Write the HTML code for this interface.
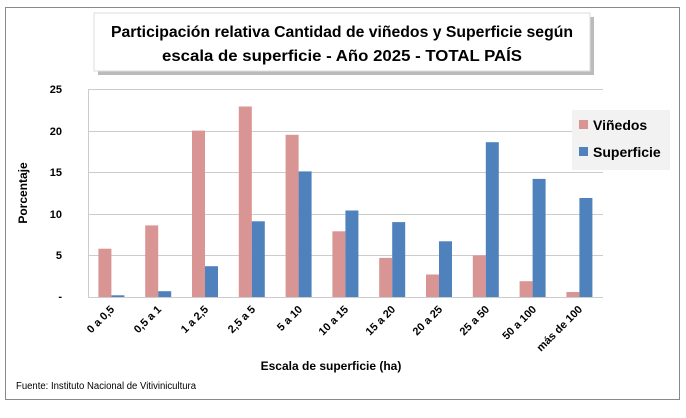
<!DOCTYPE html><html><head><style>body{margin:0;background:#fff}svg text{font-family:"Liberation Sans",sans-serif}</style></head><body>
<svg width="686" height="413" xmlns="http://www.w3.org/2000/svg">
<rect x="5.5" y="7.5" width="674" height="392" fill="#fff" stroke="#888"/>
<rect x="98" y="17" width="496" height="58" fill="#bbb"/>
<rect x="94" y="13" width="496" height="58" fill="#fff" stroke="#ddd"/>
<text x="342" y="37" text-anchor="middle" font-size="16" font-weight="bold" textLength="462" lengthAdjust="spacingAndGlyphs">Participación relativa Cantidad de viñedos y Superficie según</text>
<text x="342" y="61" text-anchor="middle" font-size="16" font-weight="bold" textLength="360" lengthAdjust="spacingAndGlyphs">escala de superficie - Año 2025 - TOTAL PAÍS</text>
<g stroke="#ccc"><line x1="88" x2="603" y1="89.5" y2="89.5"/><line x1="88" x2="603" y1="131.5" y2="131.5"/><line x1="88" x2="603" y1="172.5" y2="172.5"/><line x1="88" x2="603" y1="214.5" y2="214.5"/><line x1="88" x2="603" y1="255.5" y2="255.5"/><line x1="88" x2="603" y1="297.5" y2="297.5"/><line x1="88.5" x2="88.5" y1="89" y2="297"/></g>
<g font-size="11" font-weight="bold" text-anchor="end"><text x="62" y="93">25</text><text x="62" y="135">20</text><text x="62" y="176">15</text><text x="62" y="218">10</text><text x="62" y="259">5</text><text x="62" y="300">-</text></g>
<text transform="translate(27,193) rotate(-90)" text-anchor="middle" font-size="12" font-weight="bold">Porcentaje</text>
<g fill="#d99594">
<rect x="98.4" y="248.7" width="13" height="48.3"/>
<rect x="145.2" y="225.4" width="13" height="71.6"/>
<rect x="192" y="130.6" width="13" height="166.4"/>
<rect x="238.8" y="106.5" width="13" height="190.5"/>
<rect x="285.6" y="134.8" width="13" height="162.2"/>
<rect x="332.4" y="231.3" width="13" height="65.7"/>
<rect x="379.2" y="257.9" width="13" height="39.1"/>
<rect x="426" y="274.5" width="13" height="22.5"/>
<rect x="472.8" y="255.4" width="13" height="41.6"/>
<rect x="519.6" y="281.2" width="13" height="15.8"/>
<rect x="566.4" y="292" width="13" height="5"/>
</g>
<g fill="#4f81bd">
<rect x="111.4" y="295.3" width="13" height="1.7"/>
<rect x="158.2" y="291.2" width="13" height="5.8"/>
<rect x="205" y="266.2" width="13" height="30.8"/>
<rect x="251.8" y="221.3" width="13" height="75.7"/>
<rect x="298.6" y="171.4" width="13" height="125.6"/>
<rect x="345.4" y="210.5" width="13" height="86.5"/>
<rect x="392.2" y="222.1" width="13" height="74.9"/>
<rect x="439" y="241.3" width="13" height="55.7"/>
<rect x="485.8" y="142.2" width="13" height="154.8"/>
<rect x="532.6" y="178.9" width="13" height="118.1"/>
<rect x="579.4" y="198" width="13" height="99"/>
</g>
<g font-size="11" font-weight="bold" text-anchor="end">
<text transform="translate(115,310) rotate(-45)">0 a 0,5</text>
<text transform="translate(162,310) rotate(-45)">0,5 a 1</text>
<text transform="translate(209,310) rotate(-45)">1 a 2,5</text>
<text transform="translate(256,310) rotate(-45)">2,5 a 5</text>
<text transform="translate(303,310) rotate(-45)">5 a 10</text>
<text transform="translate(349,310) rotate(-45)">10 a 15</text>
<text transform="translate(396,310) rotate(-45)">15 a 20</text>
<text transform="translate(443,310) rotate(-45)">20 a 25</text>
<text transform="translate(490,310) rotate(-45)">25 a 50</text>
<text transform="translate(537,310) rotate(-45)">50 a 100</text>
<text transform="translate(583,310) rotate(-45)">más de 100</text>
</g>
<text x="331" y="370" text-anchor="middle" font-size="12" font-weight="bold">Escala de superficie (ha)</text>
<text x="16" y="389" font-size="10" textLength="180" lengthAdjust="spacingAndGlyphs">Fuente: Instituto Nacional de Vitivinicultura</text>
<rect x="572" y="110" width="98" height="60" fill="#f2f2f2"/>
<rect x="579" y="120" width="9" height="9" fill="#d99594"/><text x="593" y="130" font-size="14" font-weight="bold">Viñedos</text>
<rect x="579" y="147" width="9" height="9" fill="#4f81bd"/><text x="593" y="157" font-size="14" font-weight="bold">Superficie</text>
</svg></body></html>
